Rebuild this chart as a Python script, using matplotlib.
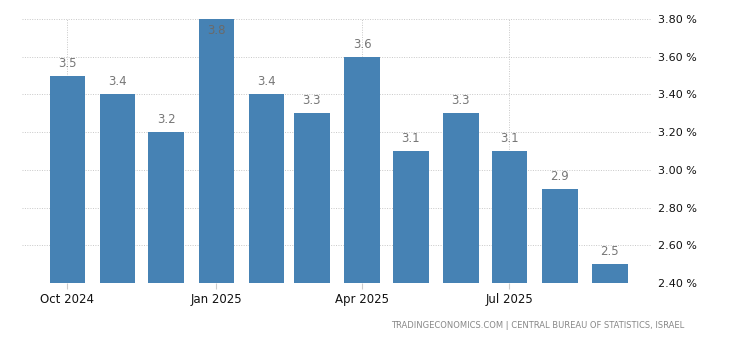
import matplotlib
matplotlib.use("Agg")
import matplotlib.pyplot as plt
import matplotlib.dates as mdates
import pandas as pd

months = ["2024-10", "2024-11", "2024-12", "2025-01", "2025-02", "2025-03",
          "2025-04", "2025-05", "2025-06", "2025-07", "2025-08", "2025-09"]
values = [3.5, 3.4, 3.2, 3.8, 3.4, 3.3, 3.6, 3.1, 3.3, 3.1, 2.9, 2.5]
xtick_months = ["2024-10", "2025-01", "2025-04", "2025-07"]
xtick_labels = ["Oct 2024", "Jan 2025", "Apr 2025", "Jul 2025"]
yticks = [2.4, 2.6, 2.8, 3.0, 3.2, 3.4, 3.6, 3.8]
source = "TRADINGECONOMICS.COM | CENTRAL BUREAU OF STATISTICS, ISRAEL"

dates = pd.to_datetime(months)
xd = mdates.date2num(dates)

fig = plt.figure(figsize=(7.3, 3.4), dpi=100)
W, H = 730, 340
ax = fig.add_axes([22 / W, 1 - 283 / H, (652 - 22) / W, (283 - 19) / H])

bar_color = "#4682b4"
ax.bar(xd, values, width=22, color=bar_color, zorder=3)

ymin, ymax = 2.4, 3.8
ax.set_ylim(ymin, ymax)
ax.set_xlim(xd[0] - 28, xd[0] + 361)

for x, v in zip(xd, values):
    if v >= ymax - 0.02:
        ax.annotate(f"{v:.1f}", (x, v), xytext=(0, -8.5), textcoords="offset points",
                    ha="center", va="center", color="#6a6a6a", fontsize=8.5, zorder=5,
                    annotation_clip=False)
    else:
        ax.annotate(f"{v:.1f}", (x, v), xytext=(0, 9), textcoords="offset points",
                    ha="center", va="center", color="#777777", fontsize=8.5, zorder=5,
                    annotation_clip=False)

ax.yaxis.tick_right()
ax.set_yticks(yticks)
ax.set_yticklabels([f"{t:.2f} %" for t in yticks])
ax.tick_params(axis="y", length=0, pad=4, labelsize=8, labelcolor="#111111")

xt = mdates.date2num(pd.to_datetime(xtick_months))
ax.set_xticks(xt)
ax.set_xticklabels(xtick_labels)
ax.tick_params(axis="x", length=4, color="#cccccc", pad=3, labelsize=8.5, labelcolor="#111111")

ax.grid(True, axis="both", linestyle=(0, (1, 1.5)), color="#c8c8c8", linewidth=0.7, zorder=0)
for s in ax.spines.values():
    s.set_visible(False)

fig.text(684 / W, 1 - 325 / H, source, ha="right", va="center", fontsize=6.0, color="#888888")

fig.savefig("out.png", dpi=100)
